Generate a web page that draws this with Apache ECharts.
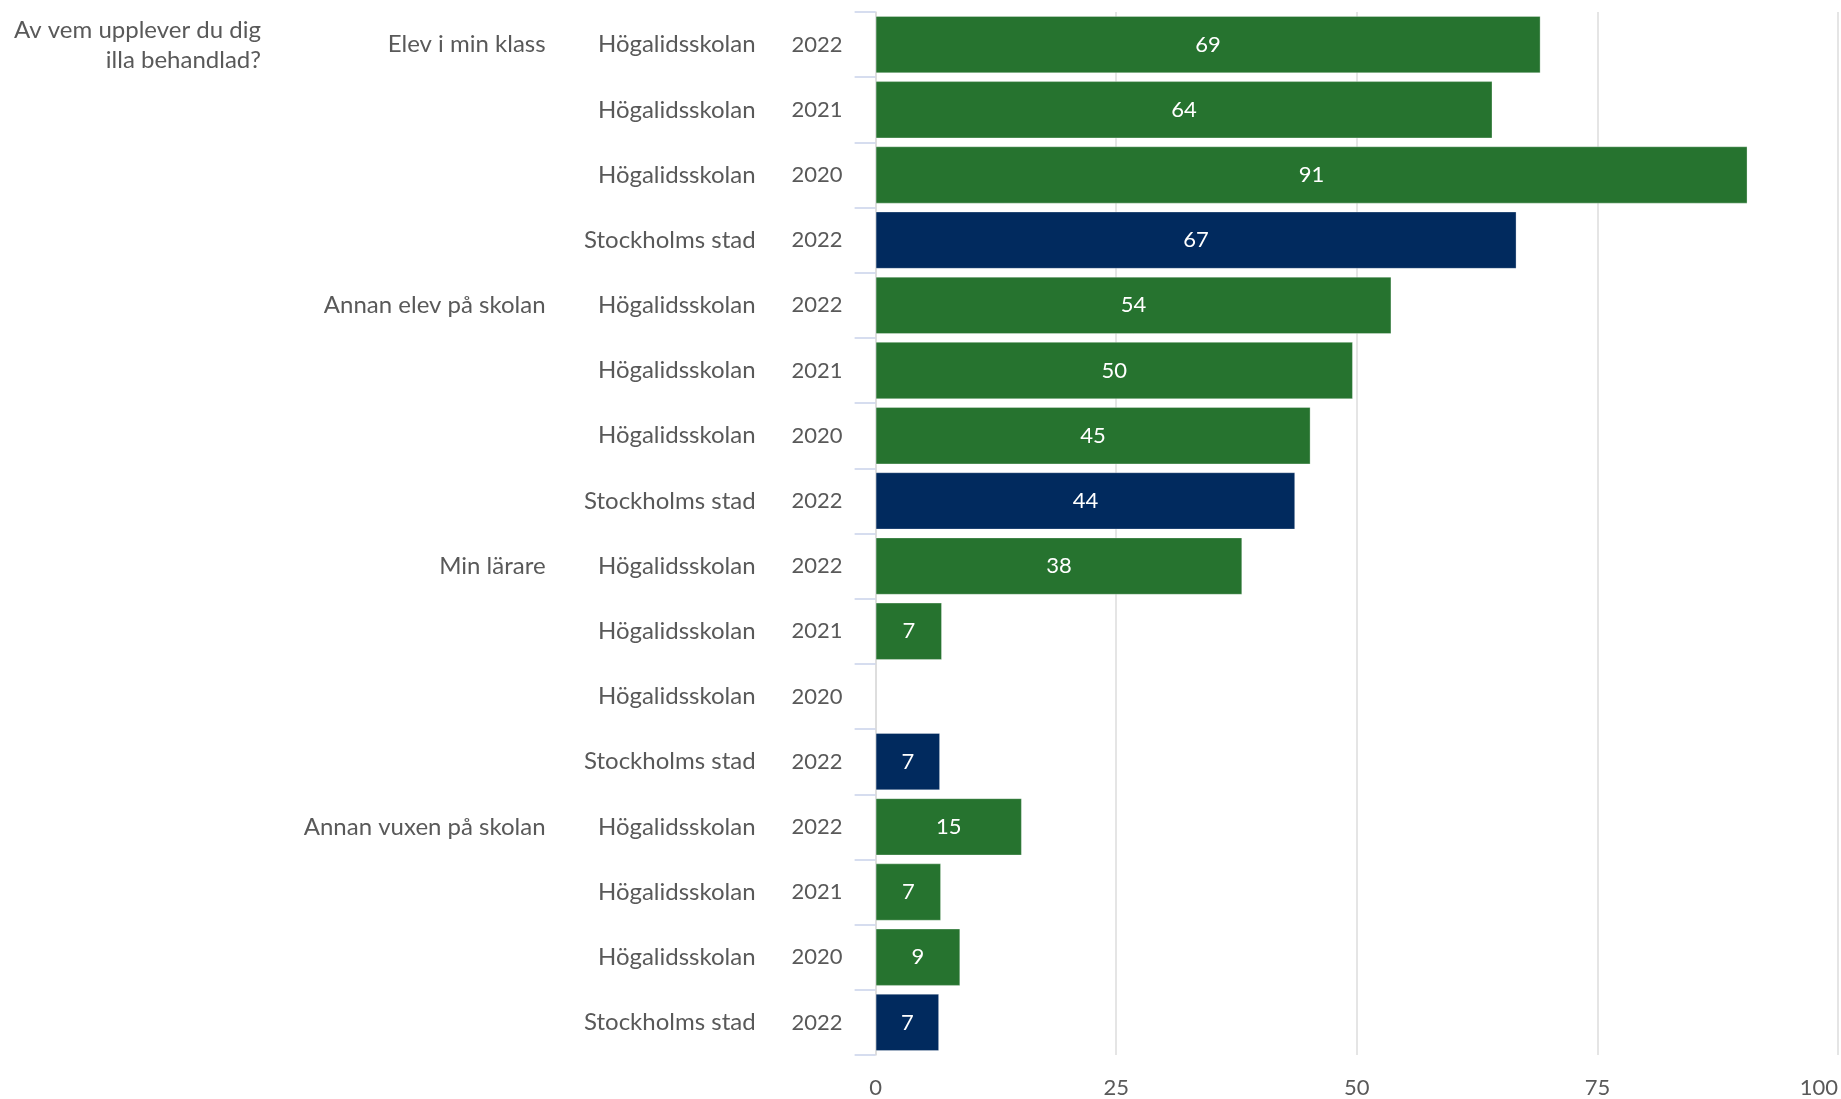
<!DOCTYPE html>
<html><head><meta charset="utf-8">
<script src="https://cdn.jsdelivr.net/npm/echarts@6/dist/echarts.min.js"></script>
<style>html,body{margin:0;padding:0;background:#fff}#c{width:1841px;height:1099px}</style>
</head><body><div id="c"></div>
<script>
// Data
const groupNames = ['Elev i min klass','Elev i min klass','Elev i min klass','Elev i min klass',
  'Annan elev på skolan','Annan elev på skolan','Annan elev på skolan','Annan elev på skolan',
  'Min lärare','Min lärare','Min lärare','Min lärare',
  'Annan vuxen på skolan','Annan vuxen på skolan','Annan vuxen på skolan','Annan vuxen på skolan'];
const units = ['Högalidsskolan','Högalidsskolan','Högalidsskolan','Stockholms stad',
  'Högalidsskolan','Högalidsskolan','Högalidsskolan','Stockholms stad',
  'Högalidsskolan','Högalidsskolan','Högalidsskolan','Stockholms stad',
  'Högalidsskolan','Högalidsskolan','Högalidsskolan','Stockholms stad'];
const years = ['2022','2021','2020','2022','2022','2021','2020','2022',
  '2022','2021','2020','2022','2022','2021','2020','2022'];
const values = [69.1, 64.1, 90.6, 66.6, 53.6, 49.6, 45.2, 43.6,
  38.1, 6.9, null, 6.7, 15.2, 6.8, 8.8, 6.6];
const xTicks = [0, 25, 50, 75, 100];
const titleLines = ['Av vem upplever du dig', 'illa behandlad?'];

const GREEN = '#26732f', NAVY = '#012a5e', TXT = '#595959';
const categories = groupNames.map((g, i) => g + '|' + units[i] + '|' + years[i]);

const chart = echarts.init(document.getElementById('c'));
chart.setOption({
  animation: false,
  textStyle: { fontFamily: 'Lato' },
  title: {
    text: titleLines.join('\n'),
    left: 256, top: 10,
    textAlign: 'right',
    textStyle: { fontFamily: 'Lato', fontSize: 24, fontWeight: 'normal', color: TXT, lineHeight: 30, align: 'right' }
  },
  grid: { left: 875.6, right: 1, top: 12, bottom: 44, containLabel: false },
  xAxis: {
    type: 'value', min: xTicks[0], max: xTicks[xTicks.length - 1], interval: 25,
    axisLine: { show: false }, axisTick: { show: false },
    splitLine: { show: true, lineStyle: { color: '#dcdcdc', width: 1.5 } },
    axisLabel: { fontSize: 22, color: TXT, margin: 22, fontFamily: 'Lato', alignMaxLabel: 'right' }
  },
  yAxis: {
    type: 'category', inverse: true, data: categories,
    axisLine: { show: true, lineStyle: { color: '#dcdcdc', width: 1.5 } },
    axisTick: { show: true, length: 21, lineStyle: { color: '#c9d2ea', width: 1.5 } },
    axisLabel: {
      margin: 33, fontSize: 22, color: TXT, fontFamily: 'Lato',
      formatter: function (v, i) {
        const p = v.split('|');
        const first = i === 0 || groupNames[i - 1] !== groupNames[i];
        return (first ? '{g|' + p[0] + '}' : '') + '{s|' + p[1] + '}{y|' + p[2] + '}';
      },
      rich: {
        g: { width: 300, align: 'right', fontSize: 24, color: TXT, fontFamily: 'Lato' },
        s: { width: 210, align: 'right', fontSize: 24, color: TXT, fontFamily: 'Lato' },
        y: { width: 87, align: 'right', fontSize: 22, color: TXT, fontFamily: 'Lato' }
      }
    }
  },
  series: [{
    type: 'bar',
    barCategoryGap: '12%',
    data: values.map((v, i) => ({
      value: v,
      itemStyle: { color: units[i] === 'Stockholms stad' ? NAVY : GREEN }
    })),
    itemStyle: { borderColor: 'rgba(255,255,255,0.3)', borderWidth: 1 },
    label: {
      show: true, position: 'inside', color: '#fff', fontSize: 22, fontFamily: 'Lato',
      formatter: p => (p.value == null ? '' : String(Math.round(p.value)))
    }
  }]
});
</script></body></html>
